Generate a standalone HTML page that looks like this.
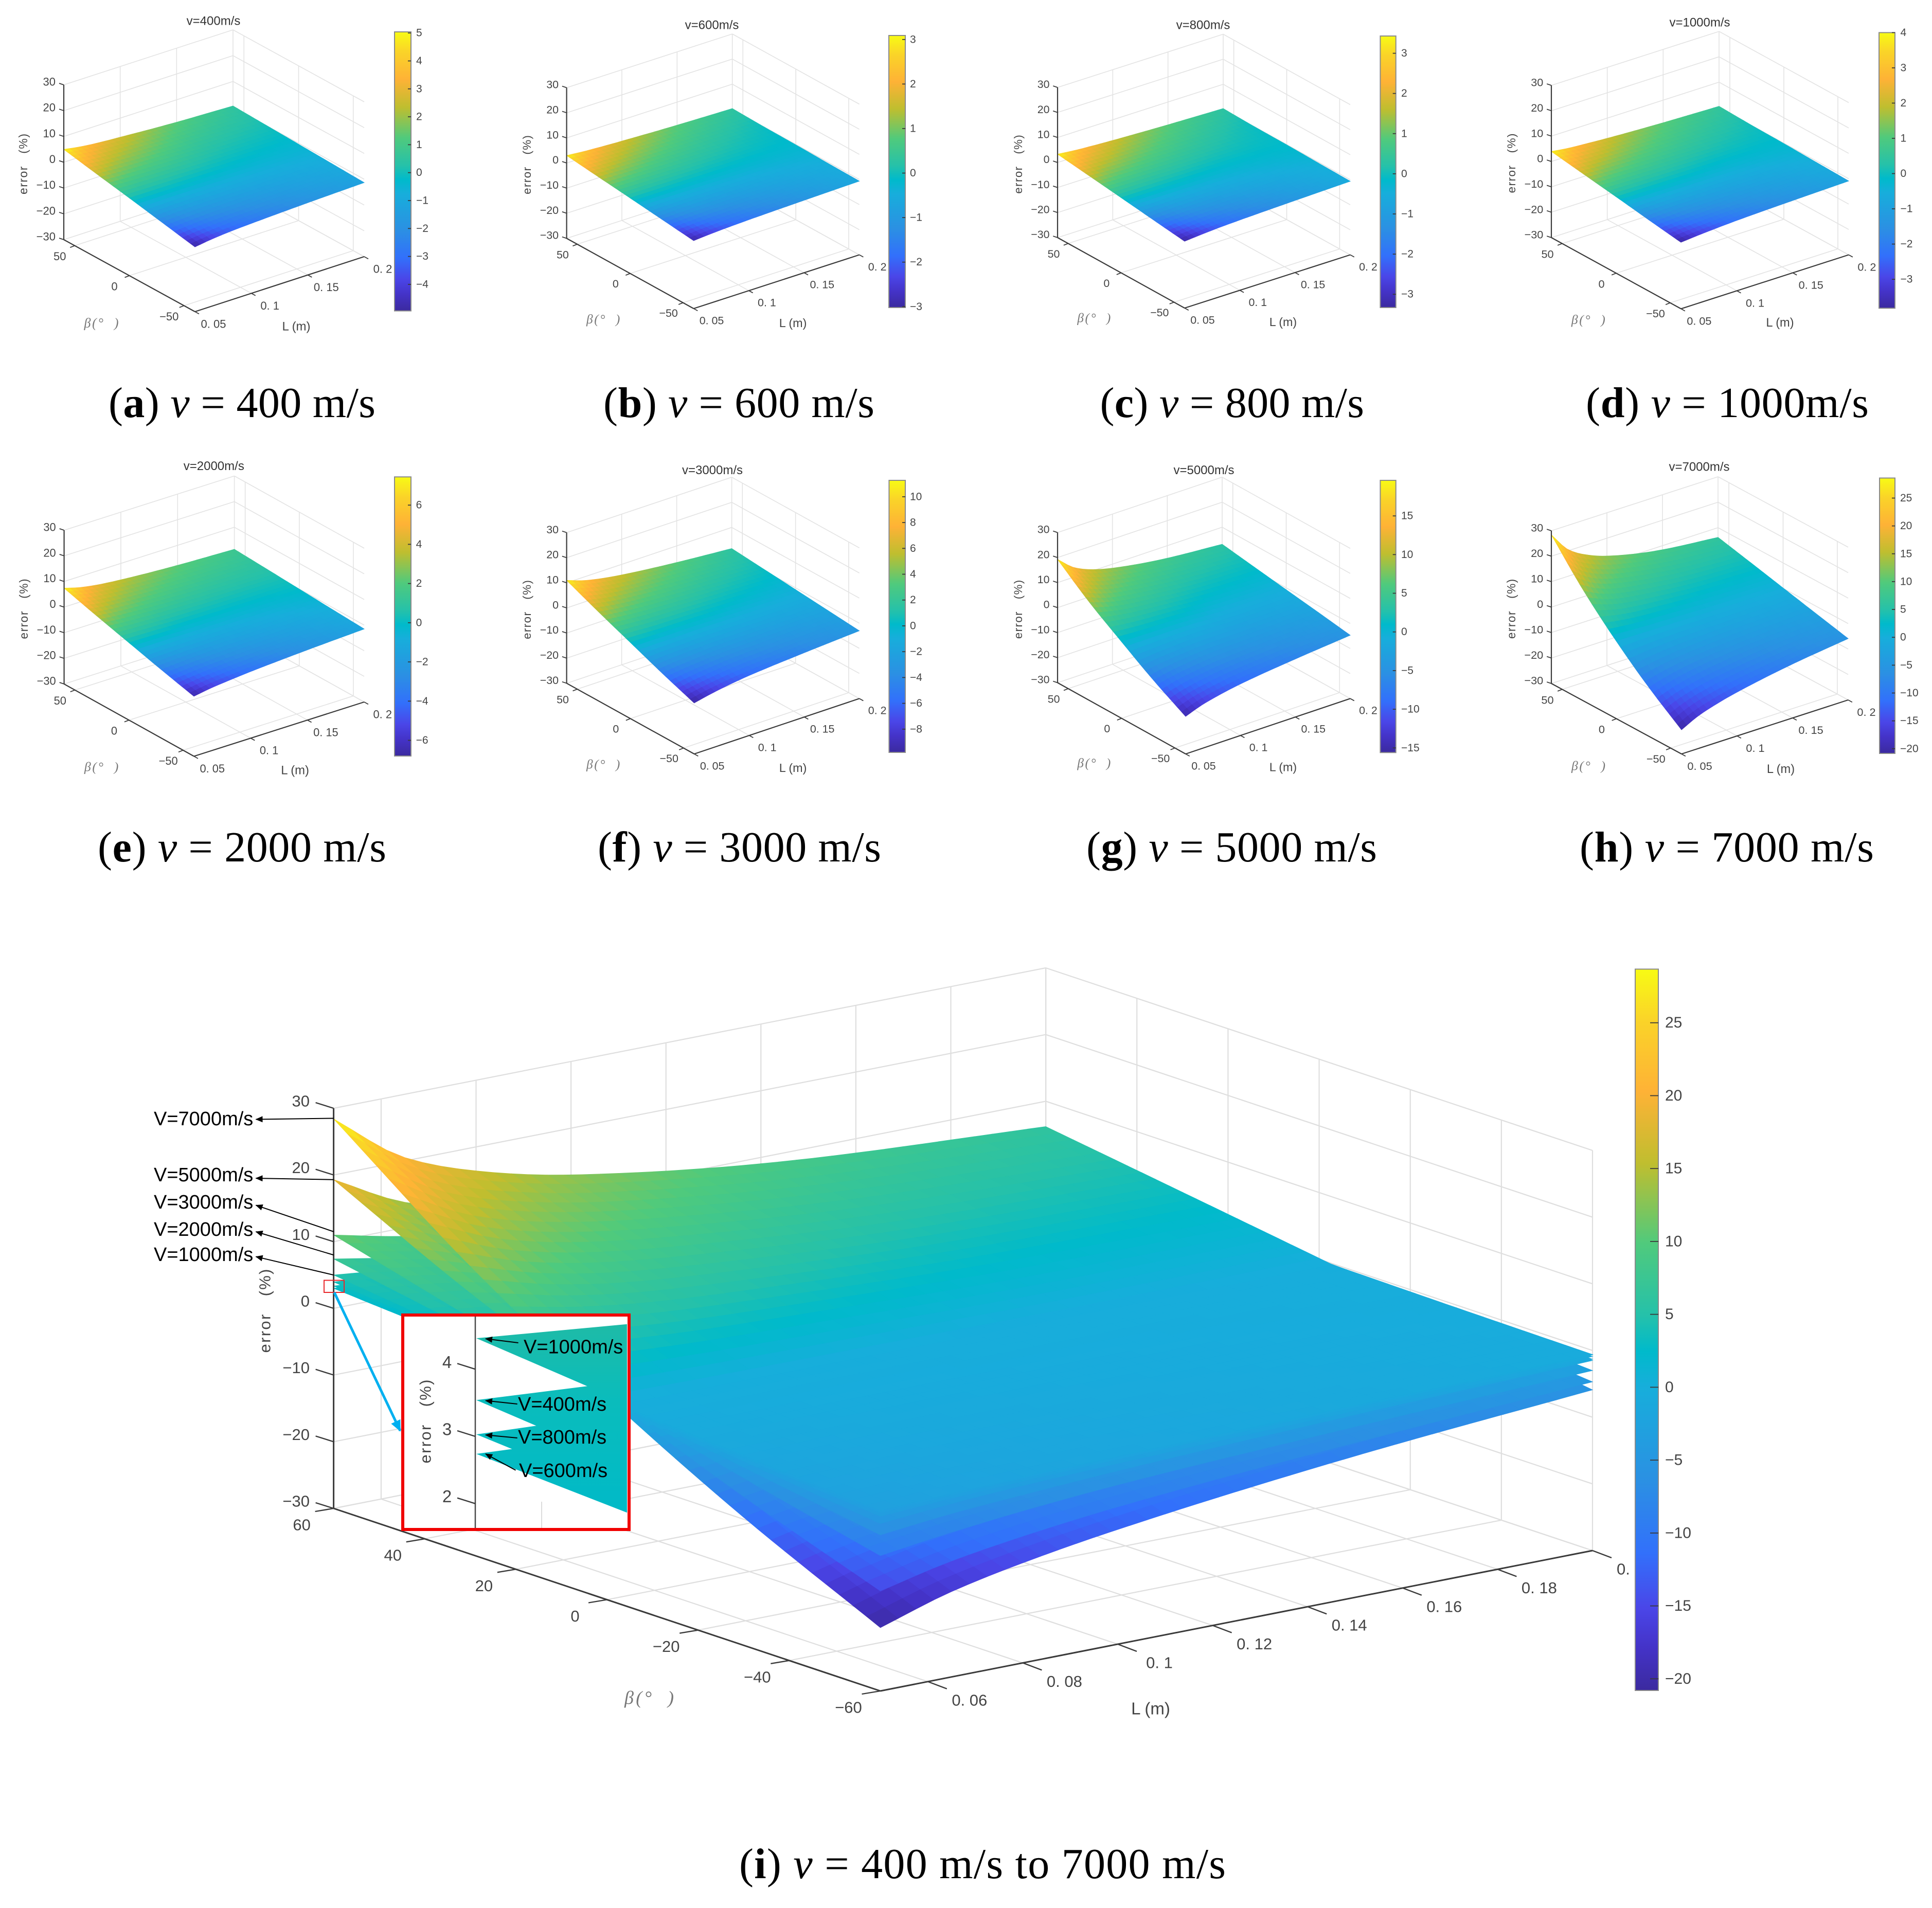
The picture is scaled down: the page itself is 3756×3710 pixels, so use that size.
<!DOCTYPE html>
<html lang="en">
<head>
<meta charset="utf-8">
<title>Error surfaces for v = 400 m/s to 7000 m/s</title>
<style>
html,body{margin:0;padding:0;background:#fff}
svg{display:block}
text{font-family:"Liberation Sans","Noto Sans CJK SC",sans-serif;white-space:pre}
.cap{font-family:"Liberation Serif",serif;font-size:84px;fill:#000}
</style>
</head>
<body>
<svg id="root" xmlns="http://www.w3.org/2000/svg" width="3756" height="3710" viewBox="0 0 3756 3710">
<defs>
<linearGradient id="parula-gradient" x1="0" y1="1" x2="0" y2="0"></linearGradient>
<linearGradient id="inset-gradient" gradientUnits="userSpaceOnUse" x1="0" y1="2570" x2="0" y2="2950">
<stop offset="0" stop-color="#1fbba6"></stop><stop offset="0.4" stop-color="#0abcbc"></stop><stop offset="1" stop-color="#00bac8"></stop>
</linearGradient>
<marker id="black-head" markerUnits="userSpaceOnUse" markerWidth="14" markerHeight="12" refX="13" refY="6" orient="auto"><path d="M0 0L14 6L0 12Z" fill="#000"></path></marker>
<marker id="blue-head" markerUnits="userSpaceOnUse" markerWidth="22" markerHeight="20" refX="20" refY="10" orient="auto"><path d="M0 0L22 10L0 20Z" fill="#00b0f0"></path></marker>
<clipPath id="inset-clip"><rect x="786" y="2560" width="433" height="411"></rect></clipPath>
</defs>
<text class="cap" x="211" y="811" textLength="519">(<tspan font-weight="bold">a</tspan>) <tspan font-style="italic">v</tspan> = 400 m/s</text>
<text class="cap" x="1173" y="811" textLength="527">(<tspan font-weight="bold">b</tspan>) <tspan font-style="italic">v</tspan> = 600 m/s</text>
<text class="cap" x="2138.5" y="811" textLength="513.5">(<tspan font-weight="bold">c</tspan>) <tspan font-style="italic">v</tspan> = 800 m/s</text>
<text class="cap" x="3083" y="811" textLength="550">(<tspan font-weight="bold">d</tspan>) <tspan font-style="italic">v</tspan> = 1000m/s</text>
<text class="cap" x="190" y="1675" textLength="561">(<tspan font-weight="bold">e</tspan>) <tspan font-style="italic">v</tspan> = 2000 m/s</text>
<text class="cap" x="1162" y="1675" textLength="551">(<tspan font-weight="bold">f</tspan>) <tspan font-style="italic">v</tspan> = 3000 m/s</text>
<text class="cap" x="2112" y="1675" textLength="565">(<tspan font-weight="bold">g</tspan>) <tspan font-style="italic">v</tspan> = 5000 m/s</text>
<text class="cap" x="3071" y="1675" textLength="572">(<tspan font-weight="bold">h</tspan>) <tspan font-style="italic">v</tspan> = 7000 m/s</text>
<text class="cap" x="1437" y="3652" textLength="946">(<tspan font-weight="bold">i</tspan>) <tspan font-style="italic">v</tspan> = 400 m/s to 7000 m/s</text>
</svg>
<script>
// ---------- chart data ----------
const lengthNodes = [0.05, 0.065, 0.08, 0.1, 0.15, 0.2];
const betaNodes = [-60, -30, 0, 30, 60];
// each surface: one row per betaNodes entry, one column per lengthNodes entry
const errorV400 = [
  [-4.9, -4.0, -3.4, -2.9, -2.0, -1.3],
  [-2.4, -2.0, -1.7, -1.5, -1.15, -0.85],
  [0.1, 0.03, 0.0, -0.1, -0.3, -0.4],
  [2.5, 1.95, 1.6, 1.25, 0.45, 0.05],
  [5.0, 3.9, 3.2, 2.6, 1.3, 0.5]
];
const errorV600 = [
  [-2.95, -2.45, -2.1, -1.75, -1.15, -0.65],
  [-1.45, -1.2, -1.0, -0.9, -0.65, -0.45],
  [0.05, 0.03, 0.0, -0.05, -0.15, -0.2],
  [1.5, 1.2, 1.0, 0.75, 0.3, -0.05],
  [3.0, 2.4, 2.0, 1.6, 0.8, 0.3]
];
const errorV800 = [
  [-3.3, -2.75, -2.3, -1.9, -1.2, -0.6],
  [-1.65, -1.35, -1.1, -0.95, -0.65, -0.4],
  [0.05, 0.03, 0.0, -0.05, -0.15, -0.15],
  [1.7, 1.3, 1.1, 0.85, 0.35, -0.05],
  [3.35, 2.65, 2.2, 1.75, 0.9, 0.3]
];
const errorV1000 = [
  [-3.8, -3.2, -2.75, -2.25, -1.5, -0.9],
  [-1.9, -1.55, -1.3, -1.15, -0.85, -0.55],
  [0.1, 0.05, 0.0, -0.05, -0.2, -0.2],
  [2.0, 1.55, 1.3, 1.0, 0.45, 0.05],
  [3.95, 3.1, 2.6, 2.05, 1.1, 0.5]
];
const errorV2000 = [
  [-6.6, -5.5, -4.8, -4.0, -2.6, -1.5],
  [-3.3, -2.8, -2.4, -2.0, -1.4, -0.8],
  [0.2, 0.1, 0.0, -0.2, -0.2, -0.05],
  [3.7, 2.8, 2.3, 1.75, 1.0, 0.7],
  [7.4, 5.6, 4.5, 3.6, 2.2, 1.4]
];
const errorV3000 = [
  [-9.7, -8.3, -7.2, -6.1, -4.4, -3.0],
  [-4.9, -4.1, -3.6, -3.0, -2.4, -1.85],
  [0.3, 0.2, 0.0, 0.0, -0.4, -0.7],
  [5.5, 4.4, 3.6, 2.9, 1.5, 0.45],
  [11.0, 8.7, 7.2, 5.8, 3.4, 1.6]
];
const errorV5000 = [
  [-15.0, -12.6, -11.0, -9.4, -6.8, -4.7],
  [-7.7, -6.3, -5.4, -4.5, -3.7, -2.7],
  [0.6, 0.4, 0.3, 0.2, -0.8, -0.75],
  [9.2, 7.0, 5.5, 4.3, 2.1, 1.2],
  [19.3, 13.8, 10.8, 8.4, 5.0, 3.2]
];
const errorV7000 = [
  [-20.5, -17.2, -15.0, -12.8, -8.8, -5.9],
  [-10.8, -8.9, -7.5, -6.2, -4.2, -2.9],
  [0.4, 0.35, 0.3, 0.25, 0.0, 0.15],
  [13.2, 10.0, 8.0, 6.5, 4.1, 3.2],
  [28.4, 20.5, 16.4, 13.0, 8.4, 6.2]
];
const zTicks = [-30, -20, -10, 0, 10, 20, 30];
const smallBetaTicks = [-50, 0, 50];
const smallLengthTicks = [0.05, 0.1, 0.15, 0.2];
const smallLengthLabels = ['0. 05', '0. 1', '0. 15', '0. 2'];
const bigBetaTicks = [-60, -40, -20, 0, 20, 40, 60];
const bigLengthTicks = [0.06, 0.08, 0.1, 0.12, 0.14, 0.16, 0.18, 0.2];
const bigLengthLabels = ['0. 06', '0. 08', '0. 1', '0. 12', '0. 14', '0. 16', '0. 18', '0.'];
const titlesList = ['v=400m/s', 'v=600m/s', 'v=800m/s', 'v=1000m/s', 'v=2000m/s', 'v=3000m/s', 'v=5000m/s', 'v=7000m/s'];
const colorLimits = [[-4.95, 5.04], [-3.02, 3.09], [-3.33, 3.43], [-3.82, 4.0], [-6.8, 7.44], [-9.8, 11.27], [-15.6, 19.6], [-20.85, 28.6]];
const colorTicks = [
  [-4, -3, -2, -1, 0, 1, 2, 3, 4, 5],
  [-3, -2, -1, 0, 1, 2, 3],
  [-3, -2, -1, 0, 1, 2, 3],
  [-3, -2, -1, 0, 1, 2, 3, 4],
  [-6, -4, -2, 0, 2, 4, 6],
  [-8, -6, -4, -2, 0, 2, 4, 6, 8, 10],
  [-15, -10, -5, 0, 5, 10, 15],
  [-20, -15, -10, -5, 0, 5, 10, 15, 20, 25]
];
const bigColorLimit = [-20.8, 28.68];
const bigColorTicks = [-20, -15, -10, -5, 0, 5, 10, 15, 20, 25];
const calloutLabels = ['V=7000m/s', 'V=5000m/s', 'V=3000m/s', 'V=2000m/s', 'V=1000m/s'];
const calloutValues = [28.5, 19.3, 11.5, 8, 5];
const insetLabels = ['V=1000m/s', 'V=400m/s', 'V=800m/s', 'V=600m/s'];
const insetCrests = [4.46, 3.54, 3.03, 2.74];
const insetTicks = [2, 3, 4];
const parulaPositions = [0, 0.06, 0.114, 0.19, 0.29, 0.42, 0.47, 0.52, 0.62, 0.73, 0.83, 0.93, 1];
const parulaColors = ['#3b2a9f', '#4433c8', '#4a46e8', '#3270fb', '#2b90e3', '#17aedb', '#00bacb', '#25c1aa', '#50ca7c', '#bfbe2f', '#feb236', '#fad428', '#f8fb14'];
const surfacesList = [errorV400, errorV600, errorV800, errorV1000, errorV2000, errorV3000, errorV5000, errorV7000];

// ---------- layout (pixel geometry, separate from data) ----------
const panelLayouts = [
  {O:[124,466],F:[379,606],R:[708,499],h:301,cb:[767,62,799,604.5],cbX:809,title:[415,41]},
  {O:[1101.6,463.5],F:[1348.5,600],R:[1670.6,495.5],h:293,cb:[1728,69,1760,598],cbX:1769,title:[1384,49]},
  {O:[2056,462],F:[2303,599],R:[2625,495.5],h:292,cb:[2683.4,70,2713.7,598],cbX:2724,title:[2339,49]},
  {O:[3016,462],F:[3268,600.4],R:[3594,495.5],h:296,cb:[3653,63.4,3684,599.3],cbX:3694.5,title:[3304.5,43.8]},
  {O:[124.6,1330],F:[377,1470.5],R:[708,1365],h:299,cb:[767,927.3,799,1470],cbX:808.6,title:[415.8,906.6]},
  {O:[1101.6,1328.6],F:[1349.6,1466],R:[1670.6,1358.3],h:293,cb:[1728.4,934,1760,1463],cbX:1769,title:[1385,914.4]},
  {O:[2056,1327.5],F:[2305,1466],R:[2625,1358.3],h:292,cb:[2683.4,934,2713.7,1463.3],cbX:2724,title:[2340.5,914.4]},
  {O:[3016,1329],F:[3269,1466],R:[3593,1361],h:297,cb:[3654,929.5,3684,1465],cbX:3694,title:[3303.5,908]}
];
const bigLayout = {O:[648.6,2933],F:[1711.5,3288],R:[3096,3015],h:778,cb:[3179,1884.4,3224,3287],cbX:3237};
const smallStyle = {zTick:[-9,-3],betaTick:[-9,3.5],lenTick:[8,4.4],zLab:[-16,-6],betaLab:[-29,21],lenLab:[36,24],font:22,axisW:2.2,gridW:1.6,cbTick:6,cbFont:21,grid:'#e3e3e3',n:32};
const bigStyle = {zTick:[-35,-11],betaTick:[-36,6],lenTick:[37,14],zLab:[-46.6,-14],betaLab:[-62,32],lenLab:[81,36],font:31,axisW:3,gridW:2.2,cbTick:16,cbFont:30,grid:'#dedede',n:40};

const NS = 'http://www.w3.org/2000/svg';
const root = document.getElementById('root');
const minusText = v => String(v).replace('-', '\u2212');

function mk(tag, parent, attrs) {
  const e = document.createElementNS(NS, tag);
  for (const k in attrs) e.setAttribute(k, attrs[k]);
  parent.appendChild(e);
  return e;
}
function mkLine(parent, a, b, stroke, width) {
  return mk('line', parent, {x1:a[0], y1:a[1], x2:b[0], y2:b[1], stroke:stroke, 'stroke-width':width});
}
function mkText(parent, x, y, str, size, fill, anchor) {
  const t = mk('text', parent, {x:x, y:y, 'font-size':size, fill:fill, 'text-anchor':anchor || 'middle', 'dominant-baseline':'central'});
  t.textContent = str;
  return t;
}

// ---------- colour scale ----------
function hexToRgb(h) { return [parseInt(h.slice(1,3),16), parseInt(h.slice(3,5),16), parseInt(h.slice(5,7),16)]; }
const parulaRgb = parulaColors.map(hexToRgb);
function colorAt(t) {
  t = Math.max(0, Math.min(1, t));
  let i = 0;
  while (i < parulaPositions.length - 2 && t > parulaPositions[i+1]) i++;
  const f = (t - parulaPositions[i]) / (parulaPositions[i+1] - parulaPositions[i]);
  const a = parulaRgb[i], b = parulaRgb[i+1];
  return 'rgb(' + Math.round(a[0]+(b[0]-a[0])*f) + ',' + Math.round(a[1]+(b[1]-a[1])*f) + ',' + Math.round(a[2]+(b[2]-a[2])*f) + ')';
}
const gradient = document.getElementById('parula-gradient');
parulaPositions.forEach((p, i) => {
  mk('stop', gradient, {offset:p, 'stop-color':parulaColors[i]});
});

// ---------- smooth lookup through the read-off nodes ----------
function pchip(xs, ys, x) {
  const n = xs.length, h = [], d = [], m = [];
  for (let i = 0; i < n-1; i++) { h[i] = xs[i+1]-xs[i]; d[i] = (ys[i+1]-ys[i])/h[i]; }
  m[0] = d[0]; m[n-1] = d[n-2];
  for (let i = 1; i < n-1; i++) {
    if (d[i-1]*d[i] <= 0) m[i] = 0;
    else {
      const w1 = 2*h[i]+h[i-1], w2 = h[i]+2*h[i-1];
      m[i] = (w1+w2)/(w1/d[i-1]+w2/d[i]);
    }
  }
  let k = 0;
  while (k < n-2 && x > xs[k+1]) k++;
  const t = (x-xs[k])/h[k], t2 = t*t, t3 = t2*t;
  return (2*t3-3*t2+1)*ys[k] + (t3-2*t2+t)*h[k]*m[k] + (-2*t3+3*t2)*ys[k+1] + (t3-t2)*h[k]*m[k+1];
}

// ---------- axis functions ----------
function makeAxes(lay) {
  const A = [lay.R[0]-lay.F[0], lay.R[1]-lay.F[1]];
  const B = [lay.F[0]-lay.O[0], lay.F[1]-lay.O[1]];
  const det = A[0]*B[1]-B[0]*A[1];
  const du = -B[0]*lay.h/det, db = A[0]*lay.h/det;
  const uOf = L => (L-0.05)/0.15, bOf = beta => (60-beta)/120, wOf = z => (z+30)/60;
  return {
    project(L, beta, z) {
      const u = uOf(L), b = bOf(beta), w = wOf(z);
      return [lay.O[0]+u*A[0]+b*B[0], lay.O[1]+u*A[1]+b*B[1]-w*lay.h];
    },
    depth(L, beta, z) { return uOf(L)*du + bOf(beta)*db + wOf(z); }
  };
}

function drawGrid(g, ax, st, betaTicks, lengthTicks) {
  const c = st.grid, w = st.gridW;
  zTicks.forEach(z => {
    const l1 = mkLine(g, ax.project(0.05,60,z), ax.project(0.2,60,z), c, w);
    
    
    const l2 = mkLine(g, ax.project(0.2,60,z), ax.project(0.2,-60,z), c, w);
    
    
  });
  lengthTicks.forEach(L => {
    const l1 = mkLine(g, ax.project(L,60,-30), ax.project(L,60,30), c, w);
    
    
    const l2 = mkLine(g, ax.project(L,60,-30), ax.project(L,-60,-30), c, w);
    
    
  });
  betaTicks.forEach(b => {
    const l1 = mkLine(g, ax.project(0.2,b,-30), ax.project(0.2,b,30), c, w);
    
    
    const l2 = mkLine(g, ax.project(0.05,b,-30), ax.project(0.2,b,-30), c, w);
    
    
  });
}

function drawSurfaces(g, ax, st, surfaces, clim) {
  const n = st.n, cells = [];
  surfaces.forEach(rows => {
    const pts = [];
    for (let i = 0; i <= n; i++) {
      const L = 0.05 + 0.15*i/n;
      const colVals = rows.map(r => pchip(lengthNodes, r, L));
      pts[i] = [];
      for (let j = 0; j <= n; j++) {
        const beta = -60 + 120*j/n;
        pts[i][j] = [L, beta, pchip(betaNodes, colVals, beta)];
      }
    }
    for (let i = 0; i < n; i++) for (let j = 0; j < n; j++) {
      const q = [pts[i][j], pts[i+1][j], pts[i+1][j+1], pts[i][j+1]];
      const zm = (q[0][2]+q[1][2]+q[2][2]+q[3][2])/4;
      const Lm = (q[0][0]+q[2][0])/2, bm = (q[0][1]+q[2][1])/2;
      cells.push({q:q, zm:zm, d:ax.depth(Lm, bm, zm)});
    }
  });
  cells.sort((a, b) => a.d - b.d);
  cells.forEach(c => {
    const points = c.q.map(p => { const s = ax.project(p[0], p[1], p[2]); return s[0].toFixed(1)+','+s[1].toFixed(1); }).join(' ');
    const col = colorAt((c.zm-clim[0])/(clim[1]-clim[0]));
    const cell = mk('polygon', g, {points:points, fill:col, stroke:col, 'stroke-width':0.9});
    
    
  });
}

function drawAxes(g, ax, st, scale, betaTicks, lengthTicks, lengthLabels) {
  const dark = '#3a3a3a', txt = '#444', s = scale;
  const zAxis = mkLine(g, ax.project(0.05,60,-30), ax.project(0.05,60,30), dark, st.axisW);
  
  
  const bAxis = mkLine(g, ax.project(0.05,60,-30), ax.project(0.05,-60,-30), dark, st.axisW);
  
  
  const lAxis = mkLine(g, ax.project(0.05,-60,-30), ax.project(0.2,-60,-30), dark, st.axisW);
  
  
  zTicks.forEach(z => {
    const p = ax.project(0.05,60,z);
    const t = mkLine(g, p, [p[0]+st.zTick[0]*s, p[1]+st.zTick[1]*s], dark, st.axisW*0.8);
    
    
    const lab = mkText(g, p[0]+st.zLab[0]*s, p[1]+st.zLab[1]*s, minusText(z), st.font*s, txt, 'end');
    
    
  });
  betaTicks.forEach(b => {
    const p = ax.project(0.05,b,-30);
    const t = mkLine(g, p, [p[0]+st.betaTick[0]*s, p[1]+st.betaTick[1]*s], dark, st.axisW*0.8);
    
    
    const lab = mkText(g, p[0]+st.betaLab[0]*s, p[1]+st.betaLab[1]*s, minusText(b), st.font*s, txt);
    
    
  });
  lengthTicks.forEach((L, i) => {
    const p = ax.project(L,-60,-30);
    const t = mkLine(g, p, [p[0]+st.lenTick[0]*s, p[1]+st.lenTick[1]*s], dark, st.axisW*0.8);
    
    
    const clipped = lengthLabels[i] === '0.';
    const lab = mkText(g, clipped ? p[0]+47 : p[0]+st.lenLab[0]*s, p[1]+st.lenLab[1]*s, lengthLabels[i], st.font*s, txt, clipped ? 'start' : 'middle');
    
    
  });
}

function drawColorbar(g, lay, st, clim, ticks, scale) {
  const c = lay.cb;
  const bar = mk('rect', g, {x:c[0], y:c[1], width:c[2]-c[0], height:c[3]-c[1], fill:'url(#parula-gradient)', stroke:'#8a8a8a', 'stroke-width':2});
  
  
  const yOf = v => c[3] - (v-clim[0])/(clim[1]-clim[0])*(c[3]-c[1]);
  ticks.forEach(v => {
    const y = yOf(v);
    const t = mkLine(g, [c[2]-st.cbTick, y], [c[2], y], '#3a3a3a', 1.8);
    
    
    const lab = mkText(g, lay.cbX, y, minusText(v), st.cbFont*scale, '#444', 'start');
    
    
  });
}

// ---------- small panels ----------
panelLayouts.forEach((lay, idx) => {
  const s = lay.h/301;
  const g = mk('g', root, {});
  
  
  const ax = makeAxes(lay);
  drawGrid(g, ax, smallStyle, smallBetaTicks, smallLengthTicks);
  const sg = mk('g', g, {});
  
  
  drawSurfaces(sg, ax, smallStyle, [surfacesList[idx]], colorLimits[idx]);
  drawAxes(g, ax, smallStyle, s, smallBetaTicks, smallLengthTicks, smallLengthLabels);
  drawColorbar(g, lay, smallStyle, colorLimits[idx], colorTicks[idx], 1);
  const title = mkText(g, lay.title[0], lay.title[1], titlesList[idx], 24, '#333');
  
  
  const zLab = mkText(g, 0, 0, 'error   (%)', 23*s, '#444');
  zLab.setAttribute('transform', 'translate(' + (lay.O[0]-79*s) + ',' + (lay.O[1]-147*s) + ') rotate(-90)');
  zLab.setAttribute('textLength', 118*s);
  
  
  const bLab = mkText(g, lay.O[0]+73*s, lay.O[1]+162*s, '\u03B2(\u00B0  )', 26*s, '#777');
  bLab.setAttribute('font-style', 'italic');
  bLab.setAttribute('style', 'font-family:"Liberation Serif",serif');
  bLab.setAttribute('textLength', 67*s);
  
  
  const lLab = mkText(g, lay.O[0]+452*s, lay.O[1]+169*s, 'L (m)', 24*s, '#444');
  
  
});

// ---------- combined chart ----------
const bigGroup = mk('g', root, {});


const bigAxes = makeAxes(bigLayout);
drawGrid(bigGroup, bigAxes, bigStyle, bigBetaTicks, bigLengthTicks);
const bigSurfaces = mk('g', bigGroup, {});


drawSurfaces(bigSurfaces, bigAxes, bigStyle, surfacesList, bigColorLimit);
drawAxes(bigGroup, bigAxes, bigStyle, 1, bigBetaTicks, bigLengthTicks, bigLengthLabels);
drawColorbar(bigGroup, bigLayout, bigStyle, bigColorLimit, bigColorTicks, 1);

const bigZTitle = mkText(bigGroup, 0, 0, 'error   (%)', 31, '#444');
bigZTitle.setAttribute('transform', 'translate(515,2549) rotate(-90)');
bigZTitle.setAttribute('textLength', 163);


const bigBetaTitle = mkText(bigGroup, 1262, 3301, '\u03B2(\u00B0  )', 36, '#777');
bigBetaTitle.setAttribute('font-style', 'italic');
bigBetaTitle.setAttribute('style', 'font-family:"Liberation Serif",serif');
bigBetaTitle.setAttribute('textLength', 96);


const bigLengthTitle = mkText(bigGroup, 2237, 3322, 'L (m)', 33, '#444');



// velocity callouts on the combined chart
const calloutLabelY = [2176, 2285, 2338, 2391, 2440];
const calloutTipY = [2176.5, 2291, 2343.5, 2395, 2443.5];
calloutLabels.forEach((str, i) => {
  const start = bigAxes.project(0.05, 60, calloutValues[i]);
  const arrow = mk('line', bigGroup, {x1:start[0], y1:start[1], x2:497.5, y2:calloutTipY[i], stroke:'#000', 'stroke-width':2, 'marker-end':'url(#black-head)'});
  
  
  const lab = mkText(bigGroup, 299, calloutLabelY[i], str, 38, '#000', 'start');
  
  
});

// zoom marker and inset
const zoomBox = mk('rect', bigGroup, {x:630, y:2489.5, width:39, height:23.5, fill:'none', stroke:'#e8262a', 'stroke-width':2});


const zoomArrow = mk('line', bigGroup, {x1:649.9, y1:2513, x2:778, y2:2782, stroke:'#00b0f0', 'stroke-width':5, 'marker-end':'url(#blue-head)'});



const insetFrame = mk('rect', bigGroup, {x:783, y:2557, width:440, height:417, fill:'#fff'});


const insetYOf = z => 2793 + (3-z)*130.7;
const insetAxisX = 924, insetRight = 1219;
const insetUpperSlope = [-0.0935, -0.126, -0.144, -0.136];
const insetLowerSlope = [0.432, 0.428, 0.41, 0.39];
const insetGroup = mk('g', bigGroup, {'clip-path':'url(#inset-clip)'});


const insetGrid = mkLine(insetGroup, [1053,2920], [1053,2975], '#dcdcdc', 2);


insetCrests.forEach((z, i) => {
  const x0 = insetAxisX+2, y0 = insetYOf(z), dx = insetRight-x0+6;
  const w = mk('polygon', insetGroup, {points:[x0,y0, x0+dx,y0+insetUpperSlope[i]*dx, x0+dx,y0+insetLowerSlope[i]*dx].join(' '), fill:'url(#inset-gradient)'});
  
  
});
const insetAxis = mkLine(bigGroup, [insetAxisX,2560], [insetAxisX,2971], '#4a4a4a', 2.5);


insetTicks.forEach(v => {
  const y = insetYOf(v);
  const t = mkLine(bigGroup, [insetAxisX,y], [insetAxisX-35,y-11], '#3a3a3a', 2.4);
  
  
  const lab = mkText(bigGroup, insetAxisX-55, y-14, String(v), 33, '#444');
  
  
});
const insetTitle = mkText(bigGroup, 0, 0, 'error   (%)', 31, '#444');
insetTitle.setAttribute('transform', 'translate(827,2764) rotate(-90)');
insetTitle.setAttribute('textLength', 163);


const insetLabelX = [1018, 1007, 1007, 1009];
const insetLabelY = [2619.5, 2731, 2795, 2860];
const insetArrowStartX = [1007.6, 1005.7, 1005.7, 1002.5];
const insetArrowStartY = [2611, 2730, 2796, 2858.7];
insetLabels.forEach((str, i) => {
  const tip = [insetAxisX+20, insetYOf(insetCrests[i])+(i === 3 ? 0 : 1)];
  const arrow = mk('line', bigGroup, {x1:insetArrowStartX[i], y1:insetArrowStartY[i], x2:tip[0], y2:tip[1], stroke:'#000', 'stroke-width':2, 'marker-end':'url(#black-head)'});
  
  
  const lab = mkText(bigGroup, insetLabelX[i], insetLabelY[i], str, 38, '#000', 'start');
  
  
});
const insetBorder = mk('rect', bigGroup, {x:783, y:2557, width:440, height:417, fill:'none', stroke:'#f00000', 'stroke-width':6});


</script>
</body>
</html>
